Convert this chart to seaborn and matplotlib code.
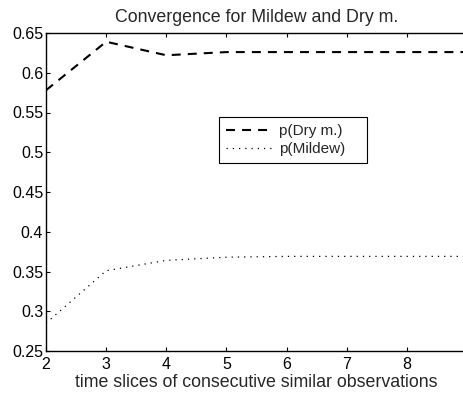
import matplotlib
matplotlib.use("Agg")
import matplotlib.pyplot as plt
import pandas as pd
import seaborn as sns

time_slices = [2, 3, 4, 5, 6, 7, 8, 9]
p_dry = [0.578, 0.639, 0.622, 0.626, 0.626, 0.626, 0.626, 0.626]
p_mildew = [0.285, 0.351, 0.364, 0.368, 0.369, 0.369, 0.369, 0.369]
y_ticks = [0.25, 0.3, 0.35, 0.4, 0.45, 0.5, 0.55, 0.6, 0.65]
y_labels = ["0.25", "0.3", "0.35", "0.4", "0.45", "0.5", "0.55", "0.6", "0.65"]
x_ticks = [2, 3, 4, 5, 6, 7, 8]

df = pd.DataFrame({
    "t": time_slices * 2,
    "p": p_dry + p_mildew,
    "series": ["p(Dry m.)"] * len(p_dry) + ["p(Mildew)"] * len(p_mildew),
})

sns.set_theme(style="ticks")
plt.rcParams["font.family"] = ["Liberation Sans", "DejaVu Sans"]

fig = plt.figure(figsize=(4.64, 3.94), dpi=100)
ax = fig.add_axes([46 / 464, 43 / 394, 421 / 464, 318 / 394])

sns.lineplot(data=df, x="t", y="p", style="series", color="black",
             dashes={"p(Dry m.)": (4.3, 3.4), "p(Mildew)": (1, 4)},
             ax=ax, legend=False)
lines = ax.get_lines()
lines[0].set_linewidth(1.5)
lines[1].set_linewidth(0.9)

ax.set_xlim(2, 9)
ax.set_ylim(0.25, 0.65)
ax.set_xticks(x_ticks)
ax.set_yticks(y_ticks)
ax.set_yticklabels(y_labels)
ax.tick_params(direction="in", top=True, right=True, length=3, width=0.8,
               labelsize=11.5, colors="black")
ax.tick_params(axis="x", pad=4)
ax.tick_params(axis="y", pad=2)
for s in ax.spines.values():
    s.set_linewidth(1.0)
    s.set_color("black")

ax.set_xlabel("time slices of consecutive similar observations", fontsize=12.8, labelpad=2)
ax.set_ylabel("")
ax.set_title("Convergence for Mildew and Dry m.", fontsize=12.8, pad=8)

leg = ax.legend(lines, ["p(Dry m.)", "p(Mildew)"], loc="upper left",
                bbox_to_anchor=(173 / 421, (351 - 160) / 318, 148 / 421, 43 / 318),
                mode="expand", fancybox=False,
                framealpha=1, edgecolor="black", fontsize=11,
                handlelength=3.0, handletextpad=0.5, borderpad=0.45,
                labelspacing=0.3, borderaxespad=0)
leg.get_frame().set_linewidth(0.8)

fig.savefig("out.png", dpi=100)
